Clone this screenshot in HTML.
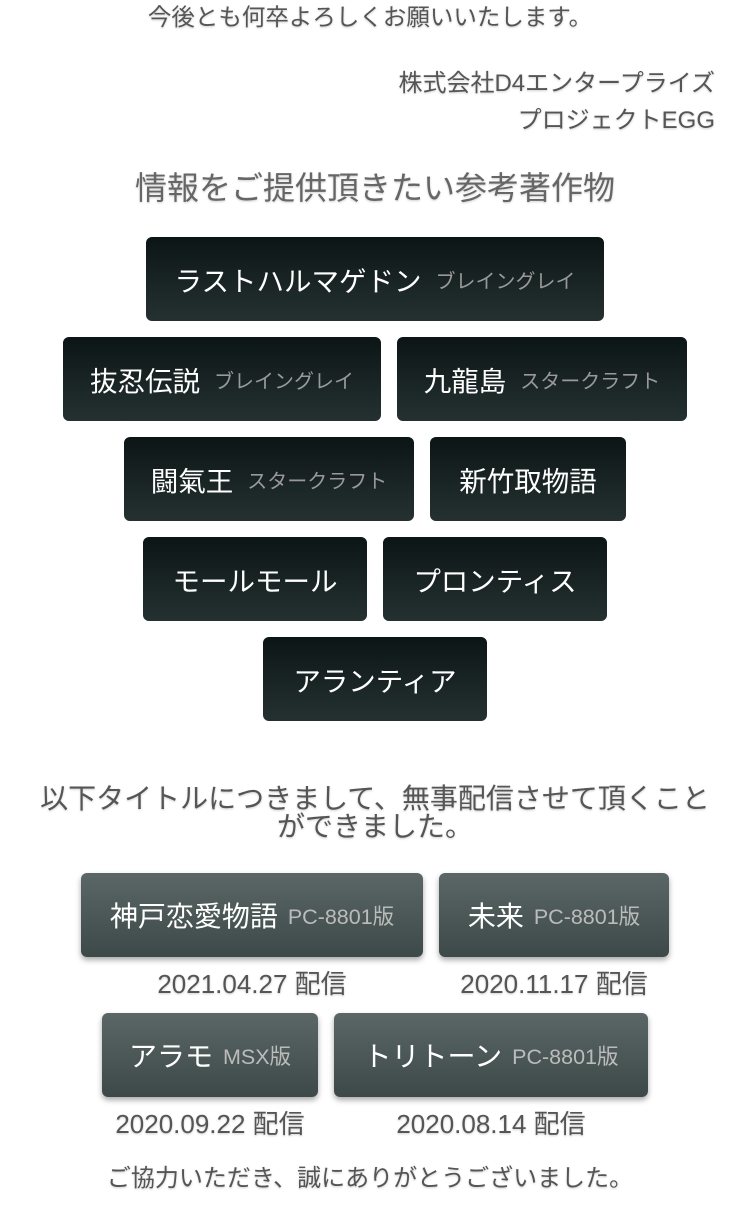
<!DOCTYPE html>
<html><head><meta charset="utf-8"><style>
*{margin:0;padding:0;box-sizing:border-box}
body{width:750px;height:1213px;background:#fff;position:relative;overflow:hidden;font-family:"Liberation Sans","Noto Sans CJK JP",sans-serif;color:#555;}
.t{position:absolute;white-space:nowrap;text-shadow:0 1px 2px rgba(0,0,0,.2);line-height:1}
.c{left:0;width:750px;text-align:center}
.b{position:absolute;height:84px;border-radius:6px;background:linear-gradient(#0c1516,#253131);display:flex;align-items:center;justify-content:center;color:#fff;font-size:27.5px;white-space:nowrap}
.b span{font-size:20px;color:#999;margin-left:14px}
.g{background:linear-gradient(#5b6766,#3d4948);box-shadow:0 3px 6px rgba(0,0,0,.35);font-size:28px}
.g span{font-size:21.5px;color:#bbb;margin-left:10px}
.d{position:absolute;font-size:26px;color:#555;white-space:nowrap;text-align:center;text-shadow:0 1px 2px rgba(0,0,0,.2);line-height:1}
</style></head><body>
<div class="t c" style="top:6px;font-size:23.5px;left:-5px">今後とも何卒よろしくお願いいたします。</div>
<div class="t" style="top:72px;right:35px;font-size:24px">株式会社D4エンタープライズ</div>
<div class="t" style="top:109px;right:35px;font-size:24px">プロジェクトEGG</div>
<div class="t c" style="top:172px;font-size:32px;color:#666;left:0px">情報をご提供頂きたい参考著作物</div>

<div class="b" style="left:146px;top:237px;width:458px">ラストハルマゲドン<span>ブレイングレイ</span></div>
<div class="b" style="left:63px;top:337px;width:318px">抜忍伝説<span>ブレイングレイ</span></div>
<div class="b" style="left:397px;top:337px;width:290px">九龍島<span>スタークラフト</span></div>
<div class="b" style="left:124px;top:437px;width:290px">闘氣王<span>スタークラフト</span></div>
<div class="b" style="left:430px;top:437px;width:196px">新竹取物語</div>
<div class="b" style="left:143px;top:537px;width:224px">モールモール</div>
<div class="b" style="left:383px;top:537px;width:224px">プロンティス</div>
<div class="b" style="left:263px;top:637px;width:224px">アランティア</div>

<div class="t c" style="top:785px;font-size:28px;line-height:28px">以下タイトルにつきまして、無事配信させて頂くこと<br>ができました。</div>

<div class="b g" style="left:81px;top:873px;width:342px">神戸恋愛物語<span>PC-8801版</span></div>
<div class="b g" style="left:439px;top:873px;width:230px">未来<span>PC-8801版</span></div>
<div class="d" style="left:81px;width:342px;top:971px">2021.04.27 配信</div>
<div class="d" style="left:439px;width:230px;top:971px">2020.11.17 配信</div>
<div class="b g" style="left:102px;top:1013px;width:216px">アラモ<span>MSX版</span></div>
<div class="b g" style="left:334px;top:1013px;width:314px">トリトーン<span>PC-8801版</span></div>
<div class="d" style="left:102px;width:216px;top:1111px">2020.09.22 配信</div>
<div class="d" style="left:334px;width:314px;top:1111px">2020.08.14 配信</div>
<div class="t c" style="top:1167px;font-size:24px;left:-5px">ご協力いただき、誠にありがとうございました。</div>
</body></html>
